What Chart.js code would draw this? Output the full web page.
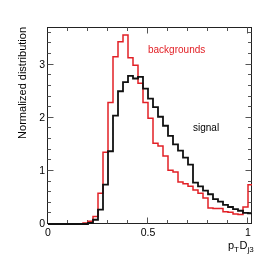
<!DOCTYPE html>
<html>
<head>
<meta charset="utf-8">
<script src="https://cdn.jsdelivr.net/npm/chart.js@4.4.1/dist/chart.umd.min.js"></script>
<style>
html,body{margin:0;padding:0;background:#fff;}
#wrap{width:266px;height:261px;}
</style>
</head>
<body>
<div id="wrap"><canvas id="c" width="266" height="261"></canvas></div>
<script>
// bin left edges (x = pT D_j3), last bin ends at 1.025
const binLeft = [0, 0.025, 0.05, 0.075, 0.1, 0.125, 0.15, 0.175, 0.2, 0.225,
  0.25, 0.275, 0.3, 0.325, 0.35, 0.375, 0.4, 0.425, 0.45, 0.475,
  0.5, 0.525, 0.55, 0.575, 0.6, 0.625, 0.65, 0.675, 0.7, 0.725,
  0.75, 0.775, 0.8, 0.825, 0.85, 0.875, 0.9, 0.925, 0.95, 0.975, 1.0];
const binEnd = 1.025;

const backgrounds = [0, 0, 0, 0, 0, 0, 0, 0.02, 0.05, 0.14,
  0.58, 1.35, 2.29, 3.15, 3.43, 3.56, 3.13, 2.99, 2.65, 2.29,
  1.99, 1.52, 1.47, 1.28, 1.01, 0.98, 0.79, 0.76, 0.71, 0.64,
  0.58, 0.49, 0.30, 0.29, 0.29, 0.23, 0.22, 0.19, 0.18, 0.32, 0.74];

const signal = [0, 0, 0, 0, 0, 0, 0, 0, 0.02, 0.08,
  0.27, 0.74, 1.37, 2.04, 2.50, 2.67, 2.79, 2.74, 2.77, 2.55,
  2.36, 2.20, 2.02, 1.85, 1.66, 1.50, 1.38, 1.25, 1.12, 0.78,
  0.71, 0.63, 0.56, 0.47, 0.42, 0.36, 0.32, 0.28, 0.25, 0.21, 0.20];

const xTickLabels = [0, 0.5, 1];
const yTickLabels = [0, 1, 2, 3];
const seriesNames = ['backgrounds', 'signal'];
const yTitle = 'Normalized distribution';

const RED = 'rgb(226,32,38)';
const FONT = '"Liberation Sans", Arial, Helvetica, sans-serif';

function histPoints(vals) {
  const pts = binLeft.map((x, i) => ({x: x, y: vals[i]}));
  pts.push({x: binEnd, y: vals[vals.length - 1]});
  return pts;
}

const framePlugin = {
  id: 'frame',
  beforeDatasetsDraw(chart) {
    const ctx = chart.ctx, a = chart.chartArea;
    const xs = chart.scales.x, ys = chart.scales.y;
    ctx.save();
    ctx.strokeStyle = '#222';
    ctx.lineWidth = 1;
    const L = Math.round(a.left) - 0.5, R = Math.round(a.right) - 0.5;
    const T = Math.round(a.top) + 0.5, B = Math.round(a.bottom) - 0.5;
    ctx.strokeRect(L, T, R - L, B - T);
    ctx.strokeStyle = '#555';
    ctx.beginPath();
    // x ticks (minor every 0.1, major every 0.5)
    for (let i = 1; i <= 10; i++) {
      const v = i / 10;
      const px = Math.round(xs.getPixelForValue(v)) - 0.5;
      const len = (i % 5 === 0) ? 6 : 3.5;
      ctx.moveTo(px, B); ctx.lineTo(px, B - len);
      ctx.moveTo(px, T); ctx.lineTo(px, T + len);
    }
    // y ticks (minor every 0.2, major every 1)
    for (let i = 1; i <= 18; i++) {
      const v = i / 5;
      if (v > ys.max) break;
      const py = Math.round(ys.getPixelForValue(v)) - 0.5;
      const len = (i % 5 === 0) ? 6 : 3.5;
      ctx.moveTo(L, py); ctx.lineTo(L + len, py);
      ctx.moveTo(R, py); ctx.lineTo(R - len, py);
    }
    ctx.stroke();
    ctx.restore();
  },
  afterDraw(chart) {
    const ctx = chart.ctx;
    ctx.save();
    ctx.textBaseline = 'middle';
    ctx.textAlign = 'left';
    ctx.font = '10px ' + FONT;
    ctx.fillStyle = RED;
    ctx.fillText(seriesNames[0], 148, 50.5);
    ctx.fillStyle = '#000';
    ctx.fillText(seriesNames[1], 193, 128);
    // x axis title p_T D_j3
    ctx.textBaseline = 'alphabetic';
    let x = 228;
    const base = 248.5;
    ctx.font = '11px ' + FONT;
    ctx.fillText('p', x, base); x += ctx.measureText('p').width;
    ctx.font = '8px ' + FONT;
    ctx.fillText('T', x, base + 3); x += ctx.measureText('T').width + 0.5;
    ctx.font = '11px ' + FONT;
    ctx.fillText('D', x, base); x += ctx.measureText('D').width;
    ctx.font = '8px ' + FONT;
    ctx.fillText('j3', x, base + 3);
    ctx.restore();
  }
};

new Chart(document.getElementById('c'), {
  type: 'line',
  data: {
    datasets: [
      {
        label: seriesNames[1],
        data: histPoints(signal),
        borderColor: '#111',
        borderWidth: 1.8,
        stepped: true,
        pointRadius: 0,
        fill: false,
        clip: {left: 2, top: 2, right: 0, bottom: 2}
      },
      {
        label: seriesNames[0],
        data: histPoints(backgrounds),
        borderColor: RED,
        borderWidth: 1.5,
        stepped: true,
        pointRadius: 0,
        fill: false,
        clip: {left: 2, top: 2, right: 0, bottom: 2}
      }
    ]
  },
  options: {
    responsive: false,
    animation: false,
    events: [],
    layout: {padding: {left: 0, right: 14, top: 27, bottom: 0}},
    plugins: {legend: {display: false}, tooltip: {enabled: false}},
    scales: {
      x: {
        type: 'linear',
        min: 0,
        max: 1.02,
        grid: {display: false, drawTicks: false},
        border: {display: false},
        afterBuildTicks(s) { s.ticks = xTickLabels.map(v => ({value: v})); },
        afterFit(s) { s.height = 37; },
        ticks: {
          padding: 3,
          color: '#000',
          font: {family: FONT, size: 10.5},
          maxRotation: 0,
          autoSkip: false,
          callback: v => String(v)
        }
      },
      y: {
        type: 'linear',
        min: 0,
        max: 3.71,
        grid: {display: false, drawTicks: false},
        border: {display: false},
        afterBuildTicks(s) { s.ticks = yTickLabels.map(v => ({value: v})); },
        afterFit(s) { s.width = 48; },
        ticks: {
          padding: 3,
          color: '#000',
          font: {family: FONT, size: 10.5},
          autoSkip: false,
          callback: v => String(v)
        },
        title: {
          display: true,
          text: yTitle,
          align: 'end',
          color: '#000',
          font: {family: FONT, size: 11},
          padding: {top: 16, bottom: 0}
        }
      }
    }
  },
  plugins: [framePlugin]
});
</script>
</body>
</html>
